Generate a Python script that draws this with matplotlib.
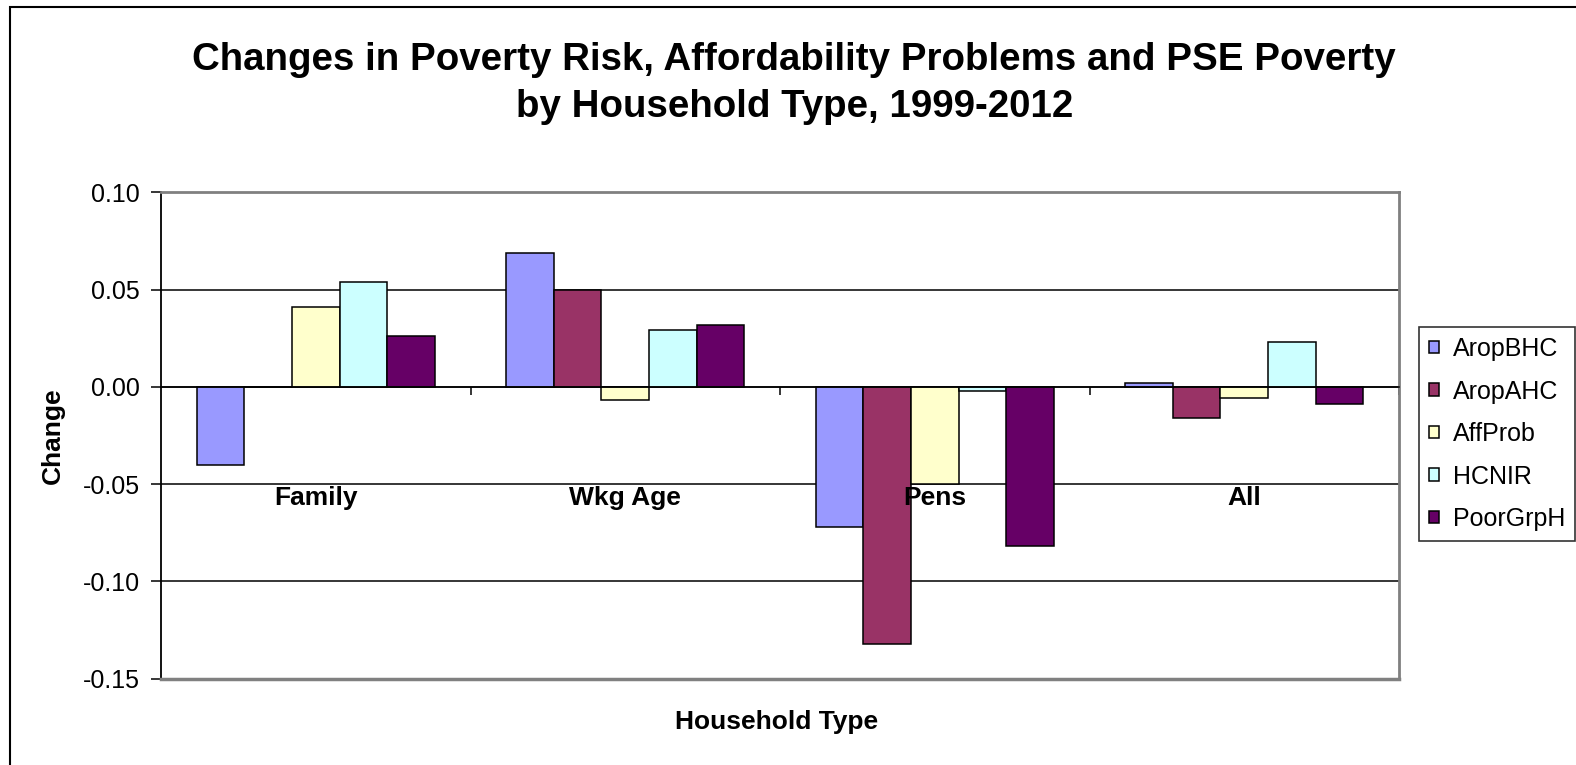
import matplotlib
matplotlib.use("Agg")
import matplotlib.pyplot as plt
from matplotlib.patches import Rectangle
import numpy as np

plt.rcParams['font.family'] = ['Liberation Sans', 'DejaVu Sans']

# household types and the change in each indicator, 1999-2012
categories = ["Family", "Wkg Age", "Pens", "All"]
series_names = ["AropBHC", "AropAHC", "AffProb", "HCNIR", "PoorGrpH"]
arop_bhc = [-0.040, 0.069, -0.072, 0.002]
arop_ahc = [0.000, 0.050, -0.132, -0.016]
aff_prob = [0.041, -0.007, -0.050, -0.006]
hcnir = [0.054, 0.029, -0.002, 0.023]
poor_grp_h = [0.026, 0.032, -0.082, -0.009]
yticks = [0.10, 0.05, 0.00, -0.05, -0.10, -0.15]

values = [arop_bhc, arop_ahc, aff_prob, hcnir, poor_grp_h]
colors = ["#9999FF", "#993366", "#FFFFCC", "#CCFFFF", "#660066"]

fig = plt.figure(figsize=(15.76, 7.65), dpi=100)
ax = fig.add_axes([161/1576, 1 - 678.6/765, (1399 - 161)/1576, (678.6 - 192.3)/765])

x = np.arange(len(categories))
w = 1 / 6.5  # excel style gap width of 150%
for k, (name, vals, col) in enumerate(zip(series_names, values, colors)):
    ax.bar(x + (k - 2) * w, vals, width=w, color=col, edgecolor="black",
           linewidth=1.1, label=name, zorder=3)

ax.set_xlim(-0.5, len(categories) - 0.5)
ax.set_ylim(-0.15, 0.10)
ax.set_yticks(yticks)
ax.set_yticklabels(["%.2f" % t for t in yticks])
ax.tick_params(axis="y", labelsize=18, length=7, width=1.1, pad=8, color="black")

# horizontal gridlines
for t in yticks[1:-1]:
    ax.axhline(t, color="black", linewidth=1.1, zorder=1)

# category axis sits on the zero line
ax.spines["bottom"].set_position(("data", 0))
ax.spines["bottom"].set_color("black")
ax.spines["bottom"].set_linewidth(1.1)
ax.spines["bottom"].set_zorder(4)
ax.set_xticks(np.arange(len(categories)) + 0.5)
ax.set_xticklabels([])
ax.tick_params(axis="x", direction="out", length=6, width=1.1)
ax.spines["left"].set_linewidth(1.3)
for s in ["top", "right"]:
    ax.spines[s].set_color("#808080")
    ax.spines[s].set_linewidth(2)
ax.plot([0, 1], [0, 0], transform=ax.transAxes, color="#808080",
        linewidth=2.5, clip_on=False, zorder=5)

for i, c in enumerate(categories):
    ax.text(i, -0.061, c, ha="center", va="baseline", fontsize=19,
            fontweight="bold", zorder=6)

fig.text(0.504, 1 - 83.5/765, "Changes in Poverty Risk, Affordability Problems and PSE Poverty\nby Household Type, 1999-2012",
         ha="center", va="center", fontsize=27.7, fontweight="bold", linespacing=1.38)
fig.text(53/1576, 1 - 436/765, "Change", rotation=90, ha="center", va="center",
         fontsize=19, fontweight="bold")
fig.text(777/1576, 1 - 722/765, "Household Type", ha="center", va="center",
         fontsize=19, fontweight="bold")

leg = ax.legend(loc="center left", bbox_to_anchor=(1419/1576, 1 - 434/765),
                bbox_transform=fig.transFigure, fontsize=18, frameon=True,
                fancybox=False, edgecolor="black", borderpad=0.4,
                handlelength=0.4, handleheight=0.4, handletextpad=0.55,
                labelspacing=0.74, borderaxespad=0)
leg.get_frame().set_linewidth(1.2)

# outer chart border
fig.patches.append(Rectangle((10/1576, -0.2), 1.2, 1.2 - 7/765, transform=fig.transFigure,
                             fill=False, edgecolor="black", linewidth=1.5))

fig.savefig("out.png", dpi=100)
